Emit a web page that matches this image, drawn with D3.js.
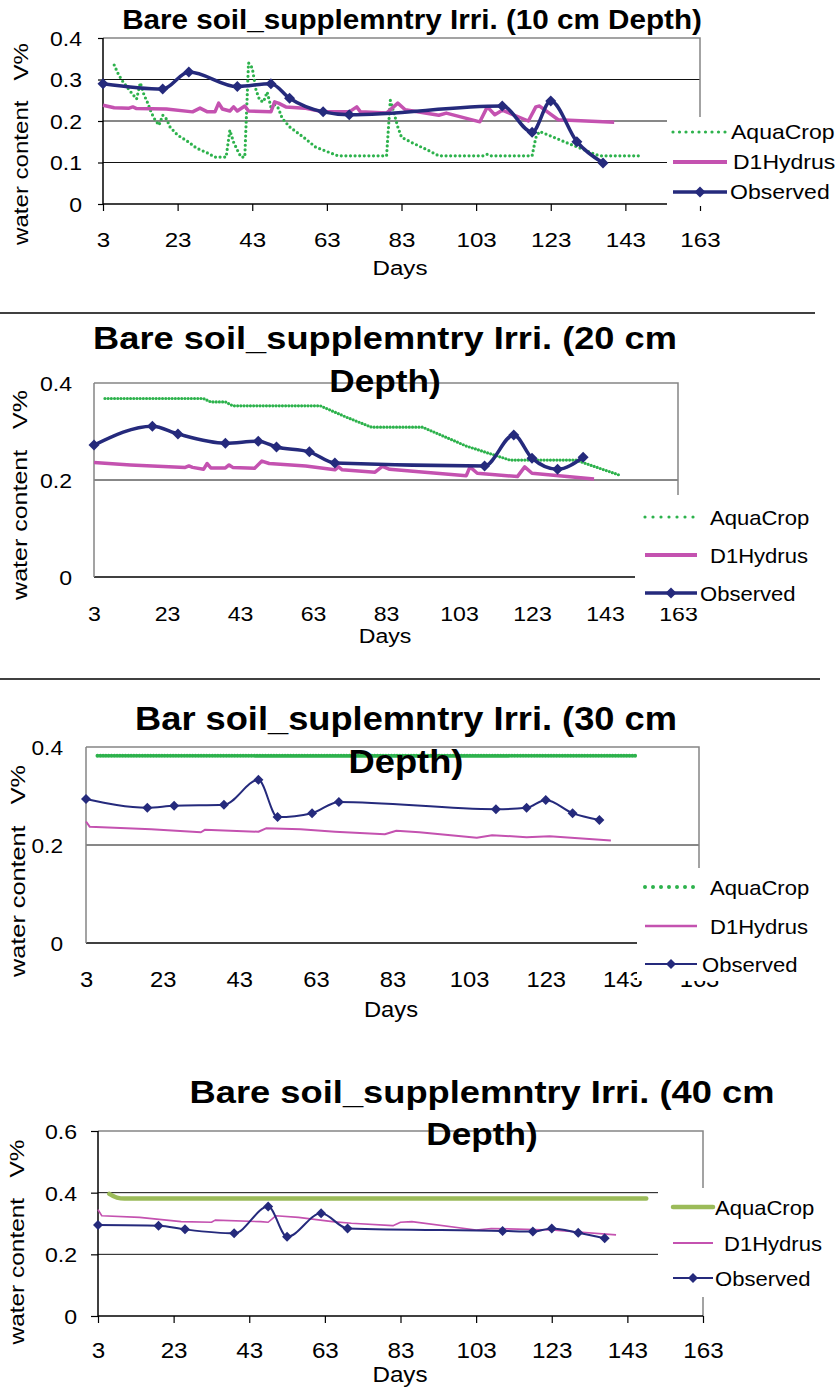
<!DOCTYPE html>
<html>
<head>
<meta charset="utf-8">
<script src="https://cdn.jsdelivr.net/npm/d3@7"></script>
<style>
  body { margin: 0; background: #fff; }
  text { font-family: "Liberation Sans", Arial, sans-serif; }
</style>
</head>
<body>
<svg id="chart" width="836" height="1389"></svg>
<script>
// --- data ---

const xTicks = [3, 23, 43, 63, 83, 103, 123, 143, 163];
const yTicks10 = [0, 0.1, 0.2, 0.3, 0.4];
const yTicks20 = [0, 0.2, 0.4];
const yTicks30 = [0, 0.2, 0.4];
const yTicks40 = [0, 0.2, 0.4, 0.6];

const legendNames = ["AquaCrop", "D1Hydrus", "Observed"];
const xLabel = "Days";
const yLabel = "water content   V%";

const titles10 = ["Bare soil_supplemntry Irri. (10 cm Depth)"];
const titles20 = ["Bare soil_supplemntry Irri. (20 cm", "Depth)"];
const titles30 = ["Bar soil_suplemntry Irri. (30 cm", "Depth)"];
const titles40 = ["Bare soil_supplemntry Irri. (40 cm", "Depth)"];

// observed sampling days are the same at every depth
const obsDays = [3, 19, 26, 39, 48, 53, 62, 69, 110, 118, 123, 130, 137];
const obs10 = [0.290, 0.277, 0.318, 0.283, 0.290, 0.255, 0.222, 0.215, 0.236, 0.173, 0.248, 0.150, 0.099];
const obs20 = [0.272, 0.311, 0.295, 0.276, 0.280, 0.268, 0.258, 0.235, 0.229, 0.293, 0.245, 0.222, 0.247];
const obs30 = [0.294, 0.276, 0.280, 0.282, 0.333, 0.257, 0.265, 0.288, 0.273, 0.276, 0.292, 0.265, 0.251];
const obs40 = [0.295, 0.293, 0.281, 0.268, 0.355, 0.257, 0.333, 0.284, 0.276, 0.274, 0.284, 0.270, 0.252];

const hydDays10 = [3, 6, 10, 11, 12, 20, 27, 29, 31, 33, 34, 35, 37, 38, 39, 41, 42, 48, 49, 50, 52, 57, 62, 69, 71, 72, 79, 82, 84, 93, 95, 104, 106, 108, 110, 117, 119, 120, 125, 140];
const hyd10 = [0.238, 0.232, 0.231, 0.234, 0.230, 0.229, 0.222, 0.231, 0.222, 0.222, 0.243, 0.229, 0.224, 0.234, 0.224, 0.236, 0.224, 0.222, 0.246, 0.243, 0.234, 0.231, 0.222, 0.222, 0.234, 0.222, 0.219, 0.243, 0.227, 0.214, 0.219, 0.198, 0.234, 0.215, 0.226, 0.200, 0.234, 0.236, 0.203, 0.197];

const aquaDays10 = [6, 7, 8, 10, 12, 13, 14, 15, 16, 17, 18, 19, 20, 21, 23, 26, 28, 31, 33, 36, 37, 38, 39, 40, 41, 42, 43, 44, 45, 46, 47, 48, 49, 50, 51, 53, 57, 60, 66, 79, 80, 81, 82, 83, 86, 90, 93, 105, 106, 107, 118, 119, 120, 128, 136, 147];
const aqua10 = [0.335, 0.315, 0.299, 0.275, 0.253, 0.292, 0.263, 0.243, 0.219, 0.202, 0.190, 0.214, 0.205, 0.185, 0.166, 0.149, 0.135, 0.123, 0.113, 0.113, 0.178, 0.149, 0.130, 0.113, 0.113, 0.340, 0.328, 0.275, 0.250, 0.246, 0.270, 0.234, 0.239, 0.231, 0.207, 0.186, 0.159, 0.137, 0.116, 0.116, 0.250, 0.219, 0.186, 0.161, 0.147, 0.130, 0.116, 0.116, 0.120, 0.116, 0.116, 0.160, 0.175, 0.145, 0.116, 0.116];

const hydDays20 = [3, 13, 28, 29, 30, 33, 34, 35, 39, 40, 41, 47, 49, 51, 61, 69, 70, 71, 80, 82, 84, 92, 105, 106, 108, 119, 121, 123, 140];
const hyd20 = [0.236, 0.231, 0.226, 0.229, 0.226, 0.222, 0.234, 0.225, 0.225, 0.231, 0.226, 0.224, 0.239, 0.234, 0.229, 0.221, 0.227, 0.221, 0.216, 0.228, 0.222, 0.217, 0.209, 0.227, 0.214, 0.207, 0.227, 0.214, 0.202];

const aquaDays20 = [6, 33, 35, 39, 41, 65, 72, 79, 93, 105, 117, 135, 147];
const aqua20 = [0.368, 0.368, 0.361, 0.361, 0.353, 0.353, 0.330, 0.309, 0.309, 0.270, 0.241, 0.241, 0.210];

const hydDays30 = [3, 4, 20, 33, 34, 48, 50, 59, 68, 81, 84, 90, 105, 109, 118, 124, 140];
const hyd30 = [0.248, 0.237, 0.232, 0.226, 0.231, 0.227, 0.234, 0.232, 0.227, 0.222, 0.229, 0.226, 0.215, 0.220, 0.216, 0.218, 0.209];

const aquaDays30 = [6, 147];
const aqua30 = [0.382, 0.382];

const hydDays40 = [3, 4, 14, 25, 33, 34, 46, 48, 50, 56, 65, 70, 81, 83, 86, 103, 107, 123, 140];
const hyd40 = [0.345, 0.325, 0.320, 0.306, 0.304, 0.311, 0.306, 0.304, 0.325, 0.320, 0.306, 0.301, 0.293, 0.304, 0.306, 0.279, 0.284, 0.279, 0.263];

const aquaDays40 = [6, 7, 8, 10, 148];
const aqua40 = [0.396, 0.389, 0.384, 0.381, 0.381];

// --- layout of each panel (pixels) ---

const panels = [
  {
    titles: titles10, titleX: 412, titleBase: [29], titleW: 580, titleFs: 27,
    x0: 103, x1: 700, yb: 204, yt: 38, ymax: 0.4, yTicks: yTicks10,
    tick: 7, ytick: 5, leftColor: "#000",
    xLabBase: 247, xfs: 21, yLabRight: 82, yfs: 20, sx: 1.15,
    daysX: 400, daysBase: 275,
    yTitle: [21, 144, 202],
    box: [667, 117, 169, 89],
    legY: [132, 162, 192], legX: [673, 727], legText: [731, 733, 730], legFs: 20, legSx: 1.15,
    obs: obs10, hydDays: hydDays10, hyd: hyd10, aquaDays: aquaDays10, aqua: aqua10,
    obsW: 3.5, hydW: 3.5, markR: 5.5, aquaW: 3.2, aquaDash: "0 4.6", aquaLegDash: "0 6.5", aquaColor: "#2db24c", aquaSolid: false
  },
  {
    titles: titles20, titleX: 385, titleBase: [349, 392], titleW: 584, titleFs: 32,
    x0: 94, x1: 678, yb: 577, yt: 383, ymax: 0.4, yTicks: yTicks20,
    tick: 0, ytick: 0, leftColor: "#858585",
    xLabBase: 621, xfs: 21, yLabRight: 72, yfs: 21, sx: 1.1,
    daysX: 385, daysBase: 643,
    yTitle: [20, 495, 210],
    box: [635, 495, 201, 113],
    legY: [517, 555, 593], legX: [645, 697], legText: [710, 710, 700], legFs: 21, legSx: 1.05,
    obs: obs20, hydDays: hydDays20, hyd: hyd20, aquaDays: aquaDays20, aqua: aqua20,
    obsW: 3.5, hydW: 3.5, markR: 5.5, aquaW: 3.2, aquaDash: "0 3.2", aquaLegDash: "0 8", aquaColor: "#2db24c", aquaSolid: false
  },
  {
    titles: titles30, titleX: 406, titleBase: [730, 773], titleW: 542, titleFs: 33,
    x0: 86, x1: 699, yb: 943, yt: 747, ymax: 0.4, yTicks: yTicks30,
    tick: 0, ytick: 0, leftColor: "#858585",
    xLabBase: 987, xfs: 22, yLabRight: 63, yfs: 21, sx: 1.08,
    daysX: 391, daysBase: 1017,
    yTitle: [18, 871, 212],
    box: [637, 868, 199, 113],
    legY: [887, 926, 964], legX: [645, 697], legText: [710, 710, 702], legFs: 21, legSx: 1.05,
    obs: obs30, hydDays: hydDays30, hyd: hyd30, aquaDays: aquaDays30, aqua: aqua30,
    obsW: 2, hydW: 2, markR: 5, aquaW: 4, aquaDash: "0 2.8", aquaLegDash: "0 8", aquaColor: "#2db24c", aquaSolid: false
  },
  {
    titles: titles40, titleX: 482, titleBase: [1103, 1145], titleW: 585, titleFs: 32,
    x0: 98, x1: 703, yb: 1316, yt: 1131, ymax: 0.6, yTicks: yTicks40,
    tick: 7, ytick: 7, leftColor: "#000",
    xLabBase: 1358, xfs: 22, yLabRight: 77, yfs: 21, sx: 1.1,
    daysX: 400, daysBase: 1382,
    yTitle: [17, 1242, 205],
    box: [658, 1188, 178, 109],
    legY: [1207, 1243, 1278], legX: [673, 713], legText: [715, 724, 715], legFs: 21, legSx: 1.05,
    obs: obs40, hydDays: hydDays40, hyd: hyd40, aquaDays: aquaDays40, aqua: aqua40,
    obsW: 2, hydW: 1.6, markR: 5, aquaW: 4.5, aquaDash: null, aquaLegDash: null, aquaColor: "#9bbb59", aquaSolid: true
  }
];

const OBS_COLOR = "#252a7c";
const HYD_COLOR = "#c452b0";
const GRAY = "#858585";

const svg = d3.select("#chart");

// separators between the charts
svg.append("line").attr("x1", 0).attr("x2", 815).attr("y1", 313).attr("y2", 313)
  .attr("stroke", "#000").attr("stroke-width", 1.5);
svg.append("line").attr("x1", 0).attr("x2", 820).attr("y1", 679).attr("y2", 679)
  .attr("stroke", "#000").attr("stroke-width", 1.5);

function diamond(r) {
  return `M0,${-r}L${r},0L0,${r}L${-r},0Z`;
}

// put text then stretch it sideways so it spans the wanted width
function fitted(parent, str, fs, width, bold, transformFn) {
  const g = parent.append("g");
  const t = g.append("text").text(str).attr("font-size", fs).attr("text-anchor", "middle")
    .attr("font-weight", bold ? "bold" : null)
    .style("white-space", "pre").attr("fill", "#000");
  const w = t.node().getComputedTextLength();
  g.attr("transform", transformFn(width / w));
  return t;
}

function drawPanel(p) {
  const x = d3.scaleLinear().domain([3, 163]).range([p.x0, p.x1]);
  const y = d3.scaleLinear().domain([0, p.ymax]).range([p.yb, p.yt]);
  const g = svg.append("g");

  // gridlines
  p.yTicks.filter(v => v > 0 && v < p.ymax).forEach(v => {
    g.append("line").attr("x1", p.x0).attr("x2", p.x1).attr("y1", y(v)).attr("y2", y(v))
      .attr("stroke", "#111").attr("stroke-width", 1);
  });

  // top and right border
  g.append("path").attr("d", `M${p.x0},${y(p.ymax)}H${p.x1}V${p.yb}`)
    .attr("fill", "none").attr("stroke", GRAY).attr("stroke-width", 1.5);

  // x axis
  const xa = g.append("g").attr("transform", `translate(0,${p.yb})`)
    .call(d3.axisBottom(x).tickValues(xTicks).tickSize(p.tick).tickFormat(d => d));
  xa.attr("font-family", null).attr("font-size", null);
  xa.select(".domain").remove();
  xa.selectAll(".tick line").attr("stroke", "#000").attr("stroke-width", 1.2);
  xa.selectAll(".tick text")
    .attr("y", p.xLabBase - p.yb).attr("dy", 0)
    .attr("font-size", p.xfs).attr("fill", "#000")
    .attr("transform", `scale(${p.sx},1)`);
  g.append("line").attr("x1", p.x0).attr("x2", p.x1).attr("y1", p.yb).attr("y2", p.yb)
    .attr("stroke", "#000").attr("stroke-width", 1.5);

  // y axis
  const ya = g.append("g").attr("transform", `translate(${p.x0},0)`)
    .call(d3.axisLeft(y).tickValues(p.yTicks).tickSize(p.ytick).tickFormat(d => String(d)));
  ya.attr("font-family", null).attr("font-size", null);
  ya.select(".domain").remove();
  ya.selectAll(".tick line").attr("stroke", "#000").attr("stroke-width", 1.2);
  ya.selectAll(".tick text")
    .attr("x", -(p.x0 - p.yLabRight) / p.sx).attr("dy", "0.36em")
    .attr("font-size", p.yfs).attr("fill", "#000")
    .attr("transform", `scale(${p.sx},1)`);
  g.append("line").attr("x1", p.x0).attr("x2", p.x0).attr("y1", p.yt).attr("y2", p.yb)
    .attr("stroke", p.leftColor).attr("stroke-width", 1.5);

  // series
  const aquaPts = d3.zip(p.aquaDays, p.aqua);
  const hydPts = d3.zip(p.hydDays, p.hyd);
  const obsPts = d3.zip(obsDays, p.obs);

  const straight = d3.line().x(d => x(d[0])).y(d => y(d[1]));
  const smooth = d3.line().x(d => x(d[0])).y(d => y(d[1])).curve(d3.curveMonotoneX);

  const aq = g.append("path").datum(aquaPts)
    .attr("d", p.aquaSolid ? smooth : straight)
    .attr("fill", "none").attr("stroke", p.aquaColor).attr("stroke-width", p.aquaW)
    .attr("stroke-linecap", "round").attr("stroke-linejoin", "round");
  if (p.aquaDash) aq.attr("stroke-dasharray", p.aquaDash);

  g.append("path").datum(hydPts).attr("d", straight)
    .attr("fill", "none").attr("stroke", HYD_COLOR).attr("stroke-width", p.hydW)
    .attr("stroke-linejoin", "round");

  g.append("path").datum(obsPts).attr("d", smooth)
    .attr("fill", "none").attr("stroke", OBS_COLOR).attr("stroke-width", p.obsW)
    .attr("stroke-linejoin", "round");
  g.selectAll(".mk").data(obsPts).join("path").attr("class", "mk")
    .attr("d", diamond(p.markR))
    .attr("transform", d => `translate(${x(d[0])},${y(d[1])})`)
    .attr("fill", OBS_COLOR);

  // titles
  p.titles.forEach((s, i) => {
    if (i === 0) {
      fitted(g, s, p.titleFs, p.titleW, true, k => `translate(${p.titleX},${p.titleBase[i]}) scale(${k},1)`);
    } else {
      g.append("text").text(s).attr("x", 0).attr("y", 0)
        .attr("text-anchor", "middle").attr("font-size", p.titleFs).attr("font-weight", "bold")
        .attr("transform", `translate(${p.titleX},${p.titleBase[i]}) scale(1.1,1)`);
    }
  });

  // axis titles
  g.append("text").text(xLabel).attr("font-size", p.xfs).attr("text-anchor", "middle")
    .attr("transform", `translate(${p.daysX},${p.daysBase}) scale(${p.sx},1)`);
  fitted(g, yLabel, 20, p.yTitle[2], false,
    k => `translate(${p.yTitle[0]},${p.yTitle[1]}) rotate(-90) scale(${k},1)`)
    .attr("dy", "0.35em");

  // legend
  g.append("rect").attr("x", p.box[0]).attr("y", p.box[1]).attr("width", p.box[2]).attr("height", p.box[3])
    .attr("fill", "#fff");
  const lg = g.append("g");
  legendNames.forEach((name, i) => {
    const ly = p.legY[i];
    const seg = lg.append("line").attr("x1", p.legX[0]).attr("x2", p.legX[1]).attr("y1", ly).attr("y2", ly);
    if (i === 0) {
      seg.attr("stroke", p.aquaColor).attr("stroke-width", p.aquaW).attr("stroke-linecap", "round");
      if (p.aquaLegDash) seg.attr("stroke-dasharray", p.aquaLegDash);
    } else if (i === 1) {
      seg.attr("stroke", HYD_COLOR).attr("stroke-width", p.hydW + 0.5);
    } else {
      seg.attr("stroke", OBS_COLOR).attr("stroke-width", p.obsW);
      lg.append("path").attr("d", diamond(p.markR))
        .attr("transform", `translate(${(p.legX[0] + p.legX[1]) / 2},${ly})`).attr("fill", OBS_COLOR);
    }
    lg.append("text").text(name).attr("font-size", p.legFs).attr("fill", "#000")
      .attr("transform", `translate(${p.legText[i]},${ly + 0.36 * p.legFs}) scale(${p.legSx},1)`);
  });
}

panels.forEach(drawPanel);
</script>
</body>
</html>
